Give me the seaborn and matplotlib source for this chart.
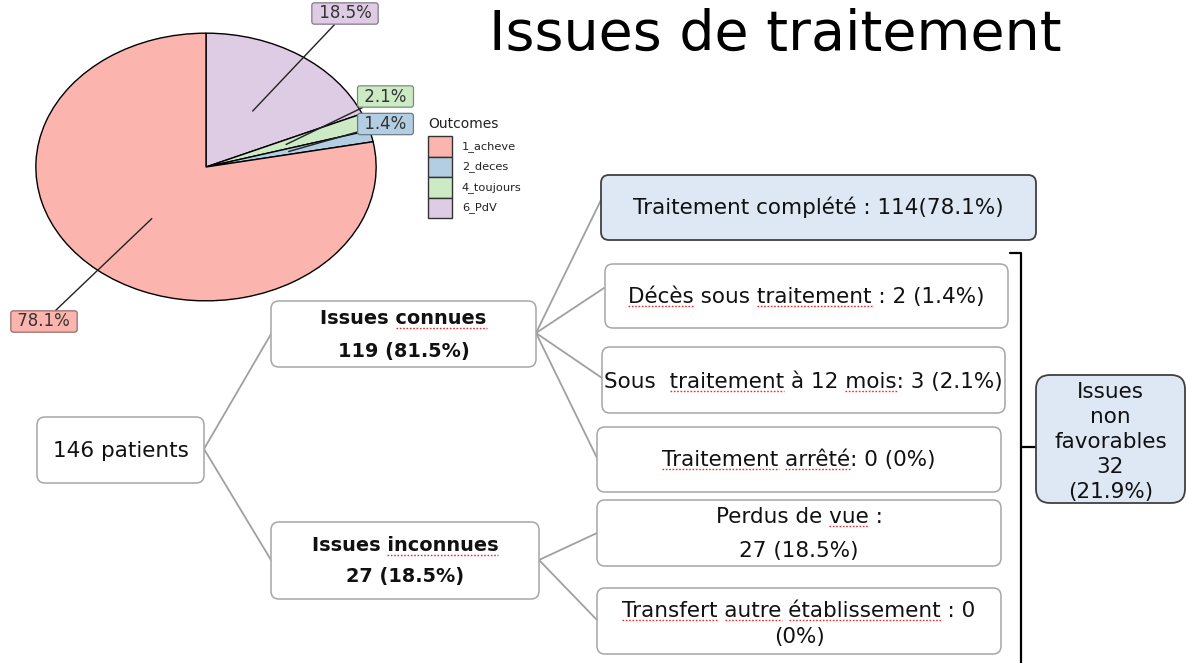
#!/usr/bin/env python3
# Slide: treatment outcomes, pie chart + flow of patients
import numpy as np
import seaborn as sns
import matplotlib.pyplot as plt
from matplotlib.patches import FancyBboxPatch, Rectangle

sns.set_theme(style="white")
plt.rcParams['font.family'] = ['DejaVu Sans']

# pie data (legend order)
outcomes = ['1_acheve', '2_deces', '4_toujours', '6_PdV']
percents = [78.1, 1.4, 2.1, 18.5]
colors = sns.color_palette('Pastel1', 4)
# where the % labels sit (pixels, from the top left)
label_pos = {'1_acheve': (44, 321.5), '2_deces': (385.5, 124),
             '4_toujours': (385.5, 96.5), '6_PdV': (345, 13.5)}

# flow chart: one entry per box, lines of text and their heights
node_lines = [['146 patients'],
              ['Issues connues', '119 (81.5%)'],
              ['Issues inconnues', '27 (18.5%)'],
              ['Traitement complété : 114(78.1%)'],
              ['Décès sous traitement : 2 (1.4%)'],
              ['Sous  traitement à 12 mois: 3 (2.1%)'],
              ['Traitement arrêté: 0 (0%)'],
              ['Perdus de vue :', '27 (18.5%)'],
              ['Transfert autre établissement : 0', '(0%)'],
              ['Issues', 'non', 'favorables', '32', '(21.9%)']]
node_line_y = [[449], [317, 350], [544, 575], [206], [295], [380], [458],
               [515, 549], [609, 635], [390, 415, 440, 465, 490]]
node_box = [(37, 417, 204, 483), (271, 301, 536, 367), (271, 522, 539, 599),
            (601, 175, 1036, 240), (605, 264, 1008, 328), (602, 347, 1005, 413),
            (597, 427, 1001, 492), (597, 500, 1001, 566), (597, 588, 1001, 654),
            (1036, 375, 1185, 503)]
node_bold = [False, True, True] + [False] * 7
node_blue = [False, False, False, True] + [False] * 5 + [True]
# words flagged by the spell checker on the slide
spell_marks = {'Issues connues': ['connues'], 'Issues inconnues': ['inconnues'],
               'Décès sous traitement : 2 (1.4%)': ['Décès', 'traitement'],
               'Sous  traitement à 12 mois: 3 (2.1%)': ['traitement', 'mois'],
               'Traitement arrêté: 0 (0%)': ['Traitement', 'arrêté'],
               'Perdus de vue :': ['vue'],
               'Transfert autre établissement : 0': ['Transfert', 'autre', 'établissement']}
links = [((204, 449), (271, 334)), ((204, 449), (271, 560)),
         ((536, 333), (601, 200)), ((536, 333), (604, 288)),
         ((536, 333), (602, 378)), ((536, 333), (598, 460)),
         ((539, 560), (597, 533)), ((539, 560), (597, 620))]

W, H = 1186, 663
fig = plt.figure(figsize=(W / 100, H / 100), dpi=100)
ax = fig.add_axes([0, 0, 1, 1])
ax.set_xlim(0, W)
ax.set_ylim(H, 0)
ax.axis('off')
renderer = fig.canvas.get_renderer()


def text_width(s, **kw):
    t = ax.text(0, 0, s, **kw)
    wpx = t.get_window_extent(renderer).width
    t.remove()
    return wpx


# the slide text is wide; pick sizes so a known line has the slide's width
title_size = 10 * 589 / text_width('Issues de traitement', fontsize=10)
body_size = 10 * 370 / text_width('Traitement complété : 114(78.1%)', fontsize=10)
bold_size = 10 * 166 / text_width('Issues connues', fontsize=10, fontweight='bold')

ax.text(775.5, 50, 'Issues de traitement', fontsize=min(title_size, 40), ha='center',
        va='baseline', color='black')

# ---- pie (ellipse, as on the slide)
cx, cy, rx, ry = 206, 167, 171, 134.5
pax = fig.add_axes([(cx - rx) / W, (H - cy - ry) / H, 2 * rx / W, 2 * ry / H])
order = outcomes[::-1]
vals = [percents[outcomes.index(o)] for o in order]
cols = [colors[outcomes.index(o)] for o in order]
wedges, _ = pax.pie(vals, colors=cols, startangle=90, counterclock=False,
                    wedgeprops=dict(edgecolor='black', linewidth=1.0))
pax.set_aspect('auto')
pax.set_xlim(-1.005, 1.005)
pax.set_ylim(-1.005, 1.005)
pax.axis('off')

for w, o, v, c in zip(wedges, order, vals, cols):
    mid = np.deg2rad((w.theta1 + w.theta2) / 2)
    px, py = label_pos[o]
    edge = tuple(np.array(c) * 0.6)
    pax.annotate(f' {v}% ', xy=(0.5 * np.cos(mid), 0.5 * np.sin(mid)),
                 xytext=(px, H - py), textcoords='figure pixels',
                 ha='center', va='center', fontsize=12, color='#333333',
                 bbox=dict(boxstyle='round,pad=0.1,rounding_size=0.15', fc=c, ec=edge, lw=0.9),
                 arrowprops=dict(arrowstyle='-', color='#222222', lw=1.0, shrinkA=0, shrinkB=0))

# legend
ax.text(428, 124, 'Outcomes', fontsize=10, va='center', color='#222222')
for i, (o, c) in enumerate(zip(outcomes, colors)):
    y0 = 136 + i * 20.5
    ax.add_patch(Rectangle((428, y0), 24, 20.5, fc=c, ec='#333333', lw=1.0))
    ax.text(462, y0 + 10.5, o, fontsize=8.2, va='center', color='#222222')

# ---- flow chart
for a, b in links:
    ax.plot([a[0], b[0]], [a[1], b[1]], color='#a0a0a0', lw=1.3, zorder=1)

for lines, ys, (x0, y0, x1, y1), bold, blue in zip(node_lines, node_line_y, node_box, node_bold, node_blue):
    rs = 14 if (x1 - x0) < 200 and blue else 8
    box = FancyBboxPatch((x0, y0), x1 - x0, y1 - y0,
                         boxstyle=f'round,pad=0,rounding_size={rs}',
                         fc='#dde8f4' if blue else 'white',
                         ec='#404040' if blue else '#a6a6a6',
                         lw=1.3 if blue else 1.1, zorder=2)
    ax.add_patch(box)
    xc = (x0 + x1) / 2
    fs = bold_size if bold else body_size
    kw = dict(fontsize=fs, fontweight='bold' if bold else 'normal')
    for line, yc in zip(lines, ys):
        base = yc + 0.365 * fs * 100 / 72
        ax.text(xc, base, line, ha='center', va='baseline', color='#111111', zorder=3, **kw)
        if line in spell_marks:
            full = text_width(line, **kw)
            left = xc - full / 2
            for word in spell_marks[line]:
                i = line.index(word)
                wx0 = left + (text_width(line[:i], **kw) if i else 0)
                wx1 = wx0 + text_width(word, **kw)
                ax.plot([wx0, wx1], [base + 3.5, base + 3.5], color='#e03030', lw=1.0,
                        ls=(0, (1.2, 1.2)), zorder=3)

# bracket grouping the unfavourable outcomes
ax.plot([1010, 1021, 1021], [253, 253, H], color='black', lw=1.6, zorder=1)
ax.plot([1021, 1036], [447, 447], color='black', lw=1.6, zorder=1)

fig.savefig('out.png', dpi=100)
